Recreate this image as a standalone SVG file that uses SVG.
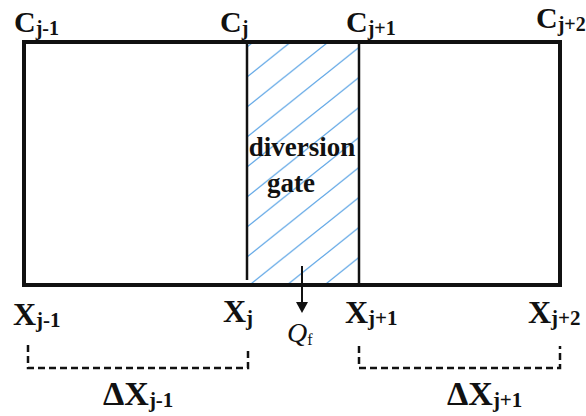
<svg xmlns="http://www.w3.org/2000/svg" width="586" height="416" viewBox="0 0 586 416">
<style>
.lbl{font-family:'Liberation Serif','Times New Roman',serif;font-weight:bold;fill:#111}
.c{font-size:30px}
.x{font-size:32px}
.dx{font-size:34px}
.sub{font-size:20px}
.subx{font-size:21px}
.q{font-family:'Liberation Serif','Times New Roman',serif;font-style:italic;font-size:28px;fill:#111}
.edge{stroke:#111;fill:none}
.dash{stroke:#111;fill:none;stroke-width:2.5;stroke-dasharray:7 4}
</style>
<defs>
<pattern id="hatch" patternUnits="userSpaceOnUse" x="247" y="17" width="37.5" height="30">
<path d="M-3.75,33 L41.25,-3 M-2,1.6 L2,-1.6 M35.5,31.6 L39.5,28.4" stroke="#62a8e6" stroke-width="1.3" fill="none"/>
</pattern>
</defs>
<rect width="586" height="416" fill="#fff"/>

<g id="gate">
<rect x="247" y="42" width="112" height="243" fill="url(#hatch)"/>
<text class="lbl" x="302" y="156" font-size="27" text-anchor="middle">diversion</text>
<text class="lbl" x="291" y="192" font-size="27" text-anchor="middle">gate</text>
</g>

<g id="channel">
<rect class="edge" x="24" y="42" width="536" height="243" stroke-width="4"/>
<line class="edge" x1="247" y1="42" x2="247" y2="280" stroke-width="2.5"/>
<line class="edge" x1="359" y1="42" x2="359" y2="285" stroke-width="2.5"/>
</g>

<g id="connectors">
<line class="edge" x1="302" y1="266" x2="302" y2="303" stroke-width="2"/>
<path d="M296,302 L308,302 L302,313 Z" fill="#111"/>
<path class="dash" d="M28,345 V368 H248 V349"/>
<path class="dash" d="M359,346 V368 H560 V346"/>
</g>

<g id="c-labels">
<text class="lbl c" x="14" y="32">C<tspan class="sub" dy="3">j-1</tspan></text>
<text class="lbl c" x="220" y="32">C<tspan class="sub" dy="3">j</tspan></text>
<text class="lbl c" x="346" y="32">C<tspan class="sub" dy="3">j+1</tspan></text>
<text class="lbl c" x="536" y="28">C<tspan class="sub" dy="3">j+2</tspan></text>
</g>

<g id="x-labels">
<text class="lbl x" x="13" y="325">X<tspan class="subx" dy="2">j-1</tspan></text>
<text class="lbl x" x="223" y="322">X<tspan class="subx" dy="3">j</tspan></text>
<text class="lbl x" x="345" y="323">X<tspan class="subx" dy="2">j+1</tspan></text>
<text class="lbl x" x="528" y="323">X<tspan class="subx" dy="2">j+2</tspan></text>
</g>

<g id="qf">
<text class="q" x="287" y="342">Q<tspan font-style="normal" font-size="16" dy="3">f</tspan></text>
</g>

<g id="dx-labels">
<text class="lbl dx" x="103" y="405">ΔX<tspan class="subx" dy="2">j-1</tspan></text>
<text class="lbl dx" x="447" y="405">ΔX<tspan class="subx" dy="2">j+1</tspan></text>
</g>
</svg>
